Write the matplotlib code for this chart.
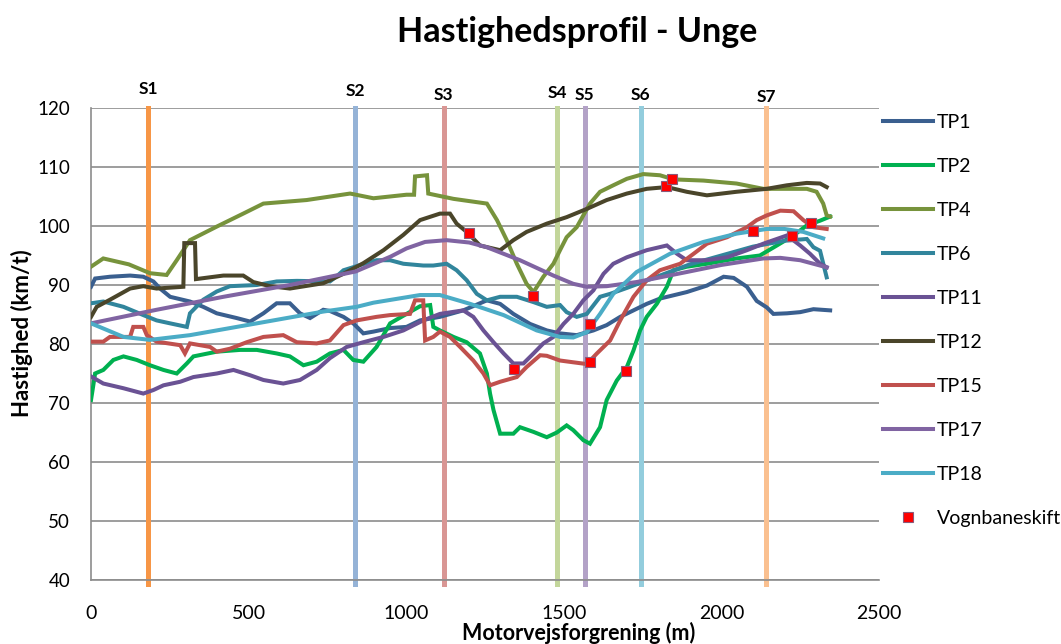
import numpy as np
import matplotlib.pyplot as plt

plt.rcParams['font.family'] = ['Lato', 'DejaVu Sans']

# (distance m, speed km/t)
tp1 = [(0, 89.7), (13, 91.1), (60, 91.4), (124, 91.6), (166, 91.4), (198, 90.6), (219, 89.4), (251, 88.0),
       (314, 87.2), (356, 86.3), (399, 85.2), (462, 84.4), (505, 83.8), (547, 85.2), (589, 86.9), (631, 86.9),
       (663, 85.2), (695, 84.4), (737, 85.8), (758, 85.6), (801, 84.6), (832, 83.5), (864, 81.8), (896, 82.1),
       (949, 82.7), (1001, 82.9), (1044, 84.0), (1107, 84.6), (1181, 85.7), (1256, 87.4), (1298, 86.8),
       (1340, 85.1), (1393, 83.4), (1446, 82.3), (1488, 81.8), (1541, 81.5), (1594, 82.3), (1636, 83.2),
       (1679, 84.6), (1721, 85.7), (1763, 86.8), (1805, 87.7), (1890, 88.8), (1954, 89.9), (2007, 91.4),
       (2039, 91.2), (2081, 89.7), (2112, 87.3), (2144, 86.2), (2165, 85.1), (2208, 85.2), (2250, 85.4),
       (2292, 85.9), (2345, 85.7)]
tp2 = [(0, 70.5), (5, 72.2), (13, 75.0), (39, 75.6), (71, 77.3), (103, 77.9), (145, 77.3), (187, 76.4),
       (230, 75.6), (272, 75.0), (304, 76.7), (325, 77.9), (399, 78.7), (473, 79.0), (526, 79.0), (589, 78.4),
       (631, 77.9), (674, 76.4), (716, 77.0), (758, 78.4), (801, 79.0), (832, 77.3), (864, 77.0), (906, 79.5),
       (949, 83.5), (1001, 85.1), (1044, 86.4), (1076, 86.6), (1086, 82.9), (1107, 82.3), (1150, 81.2),
       (1192, 80.3), (1234, 78.4), (1256, 75.0), (1266, 71.6), (1277, 68.8), (1298, 64.8), (1340, 64.8),
       (1361, 65.9), (1404, 65.1), (1446, 64.2), (1478, 65.0), (1509, 66.2), (1530, 65.4), (1562, 63.7),
       (1583, 63.1), (1615, 65.9), (1636, 70.5), (1668, 73.8), (1700, 76.1), (1721, 78.9), (1742, 82.3),
       (1763, 84.6), (1795, 86.8), (1827, 89.7), (1848, 92.5), (1890, 93.1), (1954, 93.6), (2048, 94.5),
       (2122, 95.0), (2176, 96.7), (2229, 98.4), (2271, 100.1), (2313, 100.9), (2345, 101.6)]
tp4 = [(0, 93.1), (39, 94.5), (120, 93.5), (187, 92.0), (240, 91.7), (272, 94.2), (314, 97.6), (399, 99.9),
       (483, 102.1), (547, 103.8), (684, 104.4), (822, 105.5), (896, 104.7), (1001, 105.3), (1025, 105.3),
       (1028, 108.4), (1066, 108.6), (1070, 105.5), (1150, 104.6), (1256, 103.8), (1288, 101.0), (1319, 97.6),
       (1351, 93.6), (1382, 90.2), (1404, 88.8), (1435, 91.4), (1467, 93.6), (1488, 95.9), (1509, 98.1),
       (1541, 99.8), (1562, 101.8), (1583, 103.8), (1615, 105.8), (1657, 106.9), (1700, 108.0), (1752, 108.8),
       (1805, 108.6), (1848, 107.9), (1943, 107.7), (2048, 107.2), (2133, 106.3), (2271, 106.3), (2302, 105.8),
       (2323, 103.8), (2334, 101.8), (2345, 101.6)]
tp6 = [(0, 86.9), (39, 87.2), (103, 86.3), (166, 84.9), (208, 84.0), (251, 83.5), (304, 82.9), (314, 85.2),
       (356, 87.5), (399, 88.9), (441, 89.8), (526, 90.0), (589, 90.6), (653, 90.7), (758, 90.6), (780, 91.5),
       (801, 92.5), (843, 93.2), (906, 94.2), (949, 94.2), (991, 93.6), (1054, 93.3), (1086, 93.3), (1128, 93.6),
       (1160, 92.5), (1192, 90.8), (1224, 88.5), (1256, 87.4), (1298, 88.0), (1351, 88.0), (1404, 87.1),
       (1446, 86.3), (1488, 86.6), (1509, 85.4), (1541, 84.6), (1573, 85.1), (1615, 88.0), (1647, 88.5),
       (1700, 89.5), (1800, 91.5), (1900, 93.5), (2000, 95.0), (2100, 96.5), (2200, 97.5), (2271, 97.8),
       (2292, 96.4), (2313, 95.8), (2334, 91.3)]
tp11 = [(0, 74.5), (39, 73.3), (103, 72.5), (166, 71.6), (198, 72.2), (230, 73.0), (283, 73.6), (325, 74.4),
        (399, 75.0), (452, 75.6), (505, 74.7), (547, 73.9), (610, 73.3), (663, 73.9), (716, 75.6), (758, 77.6),
        (811, 79.5), (864, 80.3), (928, 81.2), (991, 82.3), (1054, 84.0), (1107, 85.1), (1181, 85.7),
        (1213, 84.6), (1245, 82.3), (1277, 80.3), (1309, 78.4), (1340, 76.7), (1372, 76.7), (1404, 78.4),
        (1435, 80.1), (1467, 81.2), (1499, 83.4), (1530, 85.1), (1562, 87.4), (1594, 89.1), (1626, 91.9),
        (1657, 93.6), (1700, 94.7), (1763, 95.9), (1827, 96.7), (1859, 95.3), (1890, 94.2), (1954, 94.2),
        (2018, 94.7), (2081, 95.9), (2133, 97.0), (2208, 98.4), (2250, 96.7), (2281, 95.3), (2313, 93.6),
        (2334, 93.0)]
tp12 = [(0, 84.6), (18, 86.3), (60, 87.5), (124, 89.4), (166, 89.8), (208, 89.4), (293, 89.7), (296, 97.1),
        (330, 97.1), (333, 91.0), (420, 91.6), (483, 91.6), (515, 90.5), (568, 89.8), (631, 89.4), (737, 90.3),
        (801, 91.9), (864, 93.7), (928, 95.9), (991, 98.5), (1044, 101.0), (1107, 102.1), (1139, 102.1),
        (1160, 100.4), (1192, 99.0), (1234, 96.7), (1298, 95.9), (1340, 97.6), (1382, 99.0), (1446, 100.4),
        (1509, 101.5), (1573, 102.9), (1636, 104.4), (1700, 105.5), (1763, 106.3), (1827, 106.6), (1890, 105.8),
        (1954, 105.2), (2048, 105.8), (2144, 106.3), (2208, 106.9), (2271, 107.3), (2313, 107.2), (2334, 106.6)]
tp15 = [(0, 80.4), (39, 80.4), (60, 81.2), (124, 81.2), (134, 82.9), (166, 82.9), (177, 81.5), (208, 80.4),
        (283, 79.8), (298, 78.4), (314, 80.1), (378, 79.5), (399, 78.7), (441, 79.2), (494, 80.3), (547, 81.2),
        (610, 81.5), (653, 80.3), (716, 80.1), (758, 80.6), (801, 83.2), (843, 84.0), (906, 84.6), (949, 84.9),
        (1012, 85.1), (1028, 87.4), (1054, 87.4), (1060, 80.6), (1086, 81.2), (1107, 82.1), (1139, 81.2),
        (1171, 79.5), (1213, 77.2), (1245, 75.0), (1266, 73.0), (1298, 73.6), (1351, 74.4), (1382, 76.1),
        (1425, 78.1), (1446, 78.0), (1488, 77.2), (1530, 76.9), (1573, 76.6), (1605, 78.4), (1647, 80.6),
        (1679, 84.0), (1721, 88.0), (1763, 90.8), (1805, 92.5), (1869, 93.6), (1912, 95.3), (1954, 97.0),
        (2018, 98.1), (2081, 99.8), (2112, 101.0), (2144, 101.8), (2187, 102.6), (2229, 102.5), (2260, 101.0),
        (2292, 99.8), (2334, 99.5)]
tp17 = [(0, 83.5), (208, 85.8), (420, 88.0), (631, 90.0), (840, 92.3), (950, 94.8), (1001, 96.2), (1060, 97.3),
        (1128, 97.6), (1200, 97.2), (1256, 96.4), (1361, 94.2), (1467, 91.6), (1530, 90.2), (1573, 89.7),
        (1636, 89.8), (1731, 90.5), (1890, 92.2), (2000, 93.4), (2133, 94.5), (2187, 94.6), (2250, 94.2),
        (2334, 93.0)]
tp18 = [(0, 83.5), (103, 81.2), (187, 80.7), (314, 81.5), (526, 83.5), (737, 85.5), (843, 86.3), (896, 87.0),
        (1044, 88.3), (1107, 88.3), (1203, 86.8), (1309, 84.9), (1414, 82.3), (1488, 81.2), (1530, 81.1),
        (1573, 82.0), (1615, 85.1), (1657, 88.5), (1731, 92.2), (1837, 95.3), (1943, 97.3), (2048, 98.7),
        (2144, 99.5), (2200, 99.5), (2260, 99.0), (2323, 97.9)]

series_names = ["TP1", "TP2", "TP4", "TP6", "TP11", "TP12", "TP15", "TP17", "TP18"]
series_data = [tp1, tp2, tp4, tp6, tp11, tp12, tp15, tp17, tp18]
series_colors = ["#3A5F8F", "#00B050", "#77933C", "#31859C", "#6A5294",
                 "#4A452A", "#C0504D", "#8064A2", "#4BACC6"]

# lane changes (Vognbaneskift)
skift_x = [1199, 1343, 1403, 1583, 1584, 1697, 1823, 1844, 2101, 2224, 2284]
skift_y = [98.8, 75.8, 88.1, 83.4, 76.9, 75.4, 106.7, 107.9, 99.2, 98.3, 100.5]

# sign positions
sign_names = ["S1", "S2", "S3", "S4", "S5", "S6", "S7"]
sign_x = [181, 838, 1119, 1480, 1566, 1744, 2142]
sign_label_y = [123.2, 122.9, 122.2, 122.6, 122.2, 122.2, 121.9]
sign_colors = ["#F79646", "#95B3D7", "#D99694", "#C3D69B", "#B3A2C7", "#93CDDD", "#FAC090"]

fig = plt.figure(figsize=(10.61, 6.44), dpi=100)
ax = fig.add_axes([91 / 1061, 1 - 580 / 644, 788 / 1061, 472 / 644])

for sx, scol in zip(sign_x, sign_colors):
    ax.axvline(sx, ymin=-0.008, ymax=1, color=scol, lw=3.6, clip_on=False, zorder=2)
for sname, sx, sy in zip(sign_names, sign_x, sign_label_y):
    ax.text(sx, sy, sname, ha="center", va="center", fontsize=12.5, fontweight="bold", clip_on=False)

lines = []
for name, data, col in zip(series_names, series_data, series_colors):
    arr = np.array(data)
    ln, = ax.plot(arr[:, 0], arr[:, 1], color=col, lw=2.9, label=name, zorder=3,
                  solid_joinstyle="miter")
    lines.append(ln)

mk, = ax.plot(skift_x, skift_y, ls="none", marker="s", ms=7.5, mfc="#FF0000",
              mec="#8A5A7A", mew=0.8, label="Vognbaneskift", zorder=4)

ax.set_xlim(0, 2500)
ax.set_ylim(40, 120)
ax.set_xticks(np.arange(0, 2501, 500))
ax.set_yticks(np.arange(40, 121, 10))
ax.tick_params(axis="x", length=0, pad=18, labelsize=14)
ax.tick_params(axis="y", length=0, pad=15, labelsize=13.5)
ax.grid(axis="y", color="#8C8C8C", lw=1.2)
ax.set_axisbelow(True)
for side in ["top", "right"]:
    ax.spines[side].set_visible(False)
for side in ["left", "bottom"]:
    ax.spines[side].set_color("#8C8C8C")
    ax.spines[side].set_linewidth(1.2)

fig.text(577 / 1061, 1 - 32 / 644, "Hastighedsprofil - Unge", ha="center", va="center",
         fontsize=24.5, fontweight="bold")
fig.text(22 / 1061, 1 - 333 / 644, "Hastighed (km/t)", rotation=90, ha="center", va="center",
         fontsize=16, fontweight="bold")
fig.text(579 / 1061, 1 - 633 / 644, "Motorvejsforgrening (m)", ha="center", va="center",
         fontsize=15.5, fontweight="bold")

fig.legend(lines + [mk], series_names + ["Vognbaneskift"], loc="upper left",
           bbox_to_anchor=(883 / 1061, 1 - 114 / 644), frameon=False, fontsize=14,
           handlelength=2.55, handletextpad=0.2, labelspacing=1.39, borderaxespad=0, borderpad=0)

fig.savefig("out.png", dpi=100)
